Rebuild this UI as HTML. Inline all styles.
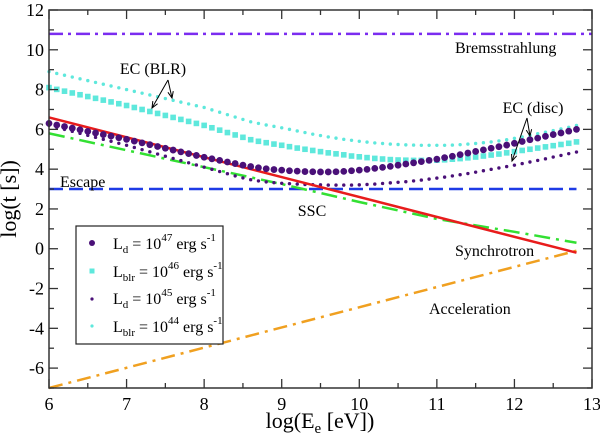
<!DOCTYPE html>
<html><head><meta charset="utf-8"><style>
body{margin:0;background:#fff}
svg{display:block;font-family:"Liberation Serif",serif}
</style></head><body>
<svg id="c" width="600" height="437" viewBox="0 0 600 437"></svg>
<script>
const xsStart=6, xsStep=0.1;
const ld47=[6.30,6.22,6.14,6.06,5.98,5.90,5.82,5.74,5.66,5.58,5.50,5.41,5.32,5.23,5.14,5.05,4.96,4.87,4.78,4.69,4.60,4.52,4.44,4.36,4.28,4.20,4.13,4.07,4.02,3.98,3.95,3.92,3.90,3.88,3.87,3.86,3.86,3.87,3.89,3.92,3.95,3.99,4.04,4.09,4.14,4.20,4.26,4.32,4.38,4.44,4.50,4.58,4.65,4.73,4.81,4.89,4.97,5.05,5.13,5.21,5.30,5.39,5.48,5.56,5.65,5.74,5.82,5.91,6.00];
const ld45=[6.20,6.10,6.00,5.90,5.80,5.70,5.60,5.50,5.40,5.30,5.20,5.09,4.98,4.87,4.76,4.65,4.54,4.43,4.32,4.21,4.10,3.99,3.88,3.77,3.66,3.56,3.47,3.41,3.36,3.32,3.29,3.27,3.25,3.23,3.22,3.21,3.20,3.20,3.20,3.20,3.21,3.23,3.25,3.28,3.31,3.34,3.37,3.41,3.45,3.50,3.55,3.60,3.66,3.72,3.78,3.85,3.92,3.99,4.06,4.13,4.20,4.28,4.36,4.44,4.52,4.61,4.69,4.78,4.86];
const lblr46=[8.10,8.01,7.92,7.83,7.74,7.65,7.56,7.47,7.38,7.29,7.20,7.10,7.00,6.90,6.80,6.70,6.60,6.50,6.40,6.30,6.20,6.08,5.96,5.84,5.72,5.60,5.48,5.40,5.33,5.26,5.20,5.13,5.06,5.00,4.94,4.88,4.82,4.77,4.72,4.66,4.62,4.58,4.54,4.51,4.48,4.46,4.45,4.44,4.44,4.44,4.45,4.47,4.50,4.53,4.57,4.61,4.66,4.71,4.76,4.82,4.88,4.94,5.00,5.06,5.12,5.18,5.24,5.30,5.37];
const lblr44=[8.90,8.81,8.72,8.63,8.54,8.45,8.36,8.27,8.18,8.09,8.00,7.91,7.82,7.73,7.64,7.55,7.46,7.37,7.28,7.19,7.10,6.98,6.86,6.74,6.62,6.50,6.38,6.30,6.22,6.15,6.08,6.00,5.92,5.84,5.76,5.69,5.62,5.56,5.50,5.45,5.40,5.36,5.32,5.29,5.26,5.24,5.22,5.21,5.20,5.20,5.20,5.20,5.21,5.23,5.26,5.29,5.33,5.37,5.42,5.48,5.55,5.62,5.70,5.78,5.86,5.94,6.02,6.10,6.20];
const sscX=[6,7,8,9,10,11,12,12.8];
const sscY=[5.8,4.95,4.1,3.25,2.35,1.5,0.85,0.3];
const synX=[6,12.8], synY=[6.6,-0.2];
const accX=[6,12.8], accY=[-7,-0.1];
const escX=[6,12.8], escY=[3,3];
const bremX=[6,13], bremY=[10.8,10.8];
const xTicks=[6,7,8,9,10,11,12,13];
const yTicks=[-6,-4,-2,0,2,4,6,8,10,12];

const NS="http://www.w3.org/2000/svg";
const svg=document.getElementById('c');
const X0=49,X1=592,Y0=388,Y1=10;
const sx=v=>X0+(v-6)/(13-6)*(X1-X0);
const sy=v=>Y0-(v+7)/(12+7)*(Y0-Y1);
function el(tag,attrs,parent){const e=document.createElementNS(NS,tag);for(const k in attrs)e.setAttribute(k,attrs[k]);(parent||svg).appendChild(e);return e;}

function line(xa,ya,stroke,w,dash,name){
  const g=el('polyline',{points:xa.map((x,i)=>sx(x)+','+sy(ya[i])).join(' '),fill:'none',stroke:stroke,'stroke-width':w,'stroke-dasharray':dash||''});
  
  
}
line(bremX,bremY,'#7b2cf0',2.5,'14,5,3,5','bremsstrahlung-line');
line(escX,escY,'#1e3be6',2.5,'14,6','escape-line');
line(accX,accY,'#f0a020',2.5,'14,6,3,6','acceleration-line');
line(sscX,sscY,'#33e033',2.5,'16,6,3,6','ssc-line');

function markers(arr,fn,name){
  const g=el('g',{});
  
  
  arr.forEach((v,i)=>fn(g,sx(xsStart+i*xsStep),sy(v)));
}
markers(lblr44,(g,x,y)=>el('circle',{cx:x,cy:y,r:1.7,fill:'#5ee8dc'},g),'lblr-1e44-series');
markers(lblr46,(g,x,y)=>el('rect',{x:x-2.8,y:y-2.8,width:5.6,height:5.6,fill:'#5ee8dc'},g),'lblr-1e46-series');
markers(ld45,(g,x,y)=>el('circle',{cx:x,cy:y,r:1.7,fill:'#4a1078'},g),'ld-1e45-series');
line(synX,synY,'#e81c1c',2.5,'','synchrotron-line');
markers(ld47,(g,x,y)=>el('circle',{cx:x,cy:y,r:3.4,fill:'#4a1078'},g),'ld-1e47-series');

el('rect',{x:X0,y:Y1,width:X1-X0,height:Y0-Y1,fill:'none',stroke:'#333','stroke-width':1.5,});
const tg=el('g',{stroke:'#333','stroke-width':1.3});
for(let v=6;v<=13.001;v+=0.5){const x=sx(v),L=Math.abs(v-Math.round(v))<0.01?9:5;
  el('line',{x1:x,y1:Y0,x2:x,y2:Y0-L},tg);el('line',{x1:x,y1:Y1,x2:x,y2:Y1+L},tg);}
for(let v=-7;v<=12;v+=1){const y=sy(v),L=(v%2===0)?9:5;
  el('line',{x1:X0,y1:y,x2:X0+L,y2:y},tg);el('line',{x1:X1,y1:y,x2:X1-L,y2:y},tg);}
xTicks.forEach(v=>{const t=el('text',{x:sx(v),y:Y0+22,'text-anchor':'middle','font-size':18});t.textContent=v;
  });
yTicks.forEach(v=>{const t=el('text',{x:X0-5,y:sy(v)+6,'text-anchor':'end','font-size':18});t.textContent=v;
  });

function arrow(x1,y1,x2,y2,name){
  const g=el('g',{stroke:'#000','stroke-width':1,fill:'none'});
  
  el('line',{x1:x1,y1:y1,x2:x2,y2:y2},g);
  const a=Math.atan2(y2-y1,x2-x1),h=7;
  el('polyline',{points:`${x2-h*Math.cos(a-0.4)},${y2-h*Math.sin(a-0.4)} ${x2},${y2} ${x2-h*Math.cos(a+0.4)},${y2-h*Math.sin(a+0.4)}`},g);
}
arrow(168,80,152,108,'ec-blr-arrow-1');arrow(168,80,172,98,'ec-blr-arrow-2');
arrow(527,118,530,136,'ec-disc-arrow-1');arrow(527,118,512,161,'ec-disc-arrow-2');
</script>
<svg width="600" height="437" style="position:absolute;left:0;top:0;font-family:'Liberation Serif',serif">
<text x="455" y="53" font-size="16">Bremsstrahlung</text>
<text x="153" y="74" font-size="16" text-anchor="middle">EC (BLR)</text>
<text x="533" y="113" font-size="16" text-anchor="middle">EC (disc)</text>
<text x="60" y="187" font-size="16">Escape</text>
<text x="312" y="216" font-size="16" text-anchor="middle">SSC</text>
<text x="455" y="256" font-size="16">Synchrotron</text>
<text x="429" y="314" font-size="16">Acceleration</text>
<text x="320" y="428" font-size="22" text-anchor="middle">log(E<tspan font-size="15" dy="5">e</tspan><tspan dy="-5"> [eV])</tspan></text>
<text transform="translate(16,199) rotate(-90)" font-size="22" text-anchor="middle">log(t [s])</text>
<g>
<rect x="76" y="226" width="147" height="118" fill="#fff" stroke="#222" stroke-width="1.2"/>
<circle cx="92" cy="243" r="3" fill="#4a1078"/>
<rect x="89.5" y="268.5" width="5" height="5" fill="#5ee8dc"/>
<circle cx="92" cy="299" r="1.6" fill="#4a1078"/>
<circle cx="92" cy="326" r="1.6" fill="#5ee8dc"/>
<text x="113" y="249" font-size="16">L<tspan font-size="11" dy="4">d</tspan><tspan dy="-4"> = 10</tspan><tspan font-size="11" dy="-8">47</tspan><tspan dy="8"> erg s</tspan><tspan font-size="11" dy="-8">-1</tspan></text>
<text x="113" y="277" font-size="16">L<tspan font-size="11" dy="4">blr</tspan><tspan dy="-4"> = 10</tspan><tspan font-size="11" dy="-8">46</tspan><tspan dy="8"> erg s</tspan><tspan font-size="11" dy="-8">-1</tspan></text>
<text x="113" y="304" font-size="16">L<tspan font-size="11" dy="4">d</tspan><tspan dy="-4"> = 10</tspan><tspan font-size="11" dy="-8">45</tspan><tspan dy="8"> erg s</tspan><tspan font-size="11" dy="-8">-1</tspan></text>
<text x="113" y="332" font-size="16">L<tspan font-size="11" dy="4">blr</tspan><tspan dy="-4"> = 10</tspan><tspan font-size="11" dy="-8">44</tspan><tspan dy="8"> erg s</tspan><tspan font-size="11" dy="-8">-1</tspan></text>
</g>
</svg>
</body></html>
